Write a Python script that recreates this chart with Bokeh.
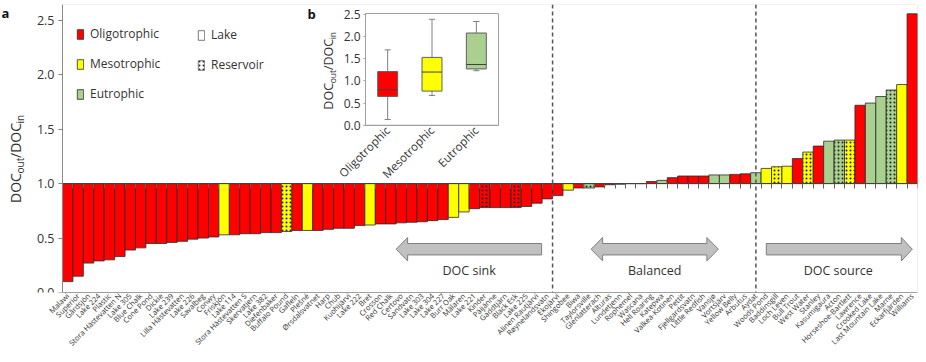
import math
from bokeh.plotting import figure
from bokeh.models import (Range1d, LinearAxis, FixedTicker, NumeralTickFormatter, BoxAnnotation,
                          Span, Label, Legend, LegendItem, ColumnDataSource)
from bokeh.embed import file_html
from bokeh.resources import INLINE

# ---------------- data ----------------
lakes = ["Malawi", "Superior", "Gårdsjön", "Lake 224", "Plastic", "Stora Hästevatten N",
         "Lake 305", "Blue Chalk", "Cone Pond", "Dickie", "Lake 239", "Lilla Hästevatten",
         "Lake 226", "Savalbeg", "Conwy", "Friskjön", "Lake 114", "Stora Hästevatten S",
         "Skervatjern", "Lake 382", "Diefenbaker", "Buffalo Pound", "Gafleln", "Plešné",
         "Ørsdalsvatnet", "Harp", "Chub", "Kuohijärvi", "Lake 222", "Bret", "Crosson",
         "Red Chalk", "Certovo", "Sandvatn", "Lake 303", "Lake 304", "Lake 227", "Burr Oak",
         "Mälaren", "Lake 221", "Kinder", "Päijänne", "Gaddtjärn", "Black Esk", "Lake 225",
         "Alinen Rautjärvi", "Røynelandsvatn", "Ekojärvi", "Shingobee", "Biwa", "Taylorsville",
         "Glenlatterach", "Alturas", "Lundetjenn", "Rophemel", "Wascana", "Hell Roaring",
         "Katepwa", "Valkea-Kotinen", "Pettit", "Fjellgardsvatn", "Little Redfish", "Vansjø",
         "Vortsjärv", "Yellow Belly", "Arbutus", "Aydat", "Woods Pond", "Baddinsgill",
         "Loch Leven", "Bull Trout", "West Water", "Stanley", "Kasumigaura", "Acton",
         "Horseshoe-Bartlett", "Lawrence", "Crooked Lake", "Last Mountain Lake", "Marne",
         "Eckarfjärden", "Williams"]

ratio = [0.10, 0.15, 0.27, 0.29, 0.30, 0.33, 0.39, 0.41, 0.45, 0.45,
         0.46, 0.47, 0.49, 0.50, 0.51, 0.53, 0.53, 0.54, 0.54, 0.55,
         0.55, 0.56, 0.57, 0.57, 0.57, 0.58, 0.59, 0.59, 0.615, 0.62,
         0.63, 0.63, 0.64, 0.645, 0.65, 0.66, 0.67, 0.69, 0.74, 0.77,
         0.78, 0.78, 0.78, 0.78, 0.79, 0.82, 0.86, 0.89, 0.94, 0.96,
         0.96, 0.97, 0.99, 0.995, 1.0, 1.0, 1.02, 1.03, 1.055, 1.07,
         1.07, 1.07, 1.08, 1.08, 1.085, 1.09, 1.10, 1.14, 1.155, 1.16,
         1.23, 1.29, 1.345, 1.39, 1.40, 1.40, 1.72, 1.74, 1.80, 1.86,
         1.91, 2.56]

# O = oligotrophic, M = mesotrophic, E = eutrophic
trophic = list("OOOOOOOOOOOOOOO" "M" "OOOOO" "M" "O" "M" "OOOOO" "M" "OOOOOOO" "MM"
               "OOOOOOOOO" "M" "O" "E" "OOOOOO" "E" "OOOO" "EE" "OO" "E" "MMM" "O" "M"
               "O" "EE" "M" "O" "EEE" "M" "O")

reservoirs = ["Buffalo Pound", "Kinder", "Black Esk", "Taylorsville", "Baddinsgill",
              "West Water", "Acton", "Horseshoe-Bartlett", "Marne"]

box_classes = ["Oligotrophic", "Mesotrophic", "Eutrophic"]
box_low = [0.13, 0.67, 1.23]
box_q1 = [0.65, 0.77, 1.27]
box_med = [0.80, 1.20, 1.37]
box_q3 = [1.21, 1.53, 2.08]
box_high = [1.70, 2.39, 2.34]

y_ticks = [0.0, 0.5, 1.0, 1.5, 2.0, 2.5]
inset_ticks = [0.0, 0.5, 1.0, 1.5, 2.0, 2.5]

assert len(lakes) == len(ratio) == len(trophic) == 82

# ---------------- styling / geometry ----------------
FONT = "Open Sans"
COLORS = {"O": "#FF0000", "M": "#FFFF00", "E": "#A9D08E"}
TXT = "#333333"

W, H = 918, 354
BL, BR, BT, BB = 0, 1, 4, 59
FL, FT = BL, BT
FW = W - BL - BR
FH = H - BT - BB
BAR_LEFT_PX = 62          # canvas x of the left edge of the first bar
N = len(lakes)
XS = (FL + FW - BAR_LEFT_PX) / N
X0, X1 = 0.5 - (BAR_LEFT_PX - FL) / XS, N + 0.5
Y0 = 0.0
Y1 = FH / 110.0


def xd(cx):
    return X0 + (cx - FL) * (X1 - X0) / FW


def yd(cy):
    return Y1 - (cy - FT) * (Y1 - Y0) / FH


# inset placement (canvas px)
IL, IR, I0, IS = 365, 498, 126, 44.8


def iu(cx):
    return 0.5 + (cx - IL) * 3.0 / (IR - IL)


def iv(cy):
    return (I0 - cy) / IS


p = figure(width=W, height=H, x_range=Range1d(X0, X1), y_range=Range1d(Y0, Y1),
           output_backend="svg", toolbar_location=None,
           min_border_left=BL, min_border_right=BR, min_border_top=BT, min_border_bottom=BB,
           x_axis_type=None, y_axis_type=None)
p.outline_line_color = None
p.background_fill_color = "white"
p.extra_x_ranges = {"ix": Range1d(iu(FL), iu(FL + FW))}
p.extra_y_ranges = {"iy": Range1d(iv(FT + FH), iv(FT))}

# panel frame
p.add_layout(BoxAnnotation(left=0.5, right=N + 0.5, bottom=Y0, top=Y1, fill_color=None,
                           line_color="#A0A0A0", line_width=1))

# main y axis (drawn at the left edge of the bars)
yax = LinearAxis(fixed_location=0.5, bounds=(Y0, Y1), ticker=FixedTicker(ticks=y_ticks),
                 formatter=NumeralTickFormatter(format="0.0"))
yax.major_tick_out = 4
yax.major_tick_in = 0
yax.minor_tick_out = 0
yax.minor_tick_in = 0
yax.axis_line_color = "#808080"
yax.major_tick_line_color = "#808080"
yax.major_label_text_font = FONT
yax.major_label_text_font_size = "12.5px"
yax.major_label_text_color = TXT
yax.major_label_standoff = 4
p.add_layout(yax, "left")

# main x axis (labels at bottom)
xs = list(range(1, N + 1))
xax = LinearAxis(ticker=FixedTicker(ticks=xs), bounds=(0.5, N + 0.5),
                 major_label_overrides={i: n for i, n in zip(xs, lakes)})
xax.major_label_orientation = math.pi / 4
xax.major_tick_out = 0
xax.major_tick_in = 0
xax.minor_tick_out = 0
xax.minor_tick_in = 0
xax.axis_line_color = "#A0A0A0"
xax.major_label_text_font = FONT
xax.major_label_text_font_size = "7.5px"
xax.major_label_text_color = TXT
xax.major_label_standoff = 2
p.add_layout(xax, "below")

# bars
src = ColumnDataSource(dict(
    x=xs, top=ratio,
    color=[COLORS[t] for t in trophic],
    hatch=["." if n in reservoirs else " " for n in lakes]))
bars = p.vbar(x="x", top="top", bottom=1.0, width=1.0, source=src, fill_color="color",
              line_color="#2A2A2A", line_width=0.8, hatch_pattern="hatch", hatch_color="#222222",
              hatch_scale=4, hatch_weight=0.8)

# axis line at ratio = 1 with boundary ticks
bticks = [i + 0.5 for i in range(0, N + 1)]
ax1 = LinearAxis(fixed_location=1.0, bounds=(0.5, N + 0.5), ticker=FixedTicker(ticks=bticks),
                 major_label_overrides={t: "" for t in bticks})
ax1.major_tick_out = 5
ax1.major_tick_in = 0
ax1.minor_tick_out = 0
ax1.minor_tick_in = 0
ax1.axis_line_color = "#404040"
ax1.major_tick_line_color = "#606060"
ax1.major_label_text_font_size = "1px"
p.add_layout(ax1, "below")

# dashed separators
for loc in (47.5, 67.0):
    p.add_layout(Span(location=loc, dimension="height", line_color="#555555",
                      line_dash="4 3", line_width=1.5))

# block arrows
SB, ST, HB, HT = 0.345, 0.45, 0.29, 0.505
MID = (SB + ST) / 2


def left_arrow(tip, base, tail):
    return [tip, base, base, tail, tail, base, base], [MID, HT, ST, ST, SB, SB, HB]


def right_arrow(tail, base, tip):
    return [tail, base, base, tip, base, base, tail], [ST, ST, HT, MID, HB, SB, SB]


def double_arrow(tip1, base1, base2, tip2):
    return ([tip1, base1, base1, base2, base2, tip2, base2, base2, base1, base1],
            [MID, HT, ST, ST, HT, MID, HB, SB, SB, HB])


for ax_, ay_ in (left_arrow(32.5, 33.6, 46.45), double_arrow(51.2, 52.3, 62.3, 63.4),
                 right_arrow(68.0, 80.95, 82.0)):
    p.patch(ax_, ay_, fill_color="#C0C0C0", line_color="#7F7F7F", line_width=1)

for tx, t in ((39.5, "DOC sink"), (57.3, "Balanced"), (74.9, "DOC source")):
    p.add_layout(Label(x=tx, y=0.2, text=t, text_align="center", text_baseline="middle",
                       text_font=FONT, text_font_size="12.5px", text_color=TXT))

# legends
lake_r = p.vbar(x=[1], top=[1.0], bottom=1.0, width=1, fill_color="white",
                line_color="#555555", line_width=0.8, visible=False)
res_r = p.vbar(x=[1], top=[1.0], bottom=1.0, width=1, fill_color="white",
               line_color="#555555", line_width=0.8, hatch_pattern=".", hatch_color="#222222",
               hatch_scale=4, hatch_weight=0.8, visible=False)


def first_index(code):
    return next(i for i, (t, n) in enumerate(zip(trophic, lakes))
                if t == code and n not in reservoirs)


def style_legend(lg):
    lg.background_fill_alpha = 0
    lg.border_line_alpha = 0
    lg.label_text_font = FONT
    lg.label_text_font_size = "12px"
    lg.label_text_color = TXT
    lg.glyph_width = 8
    lg.glyph_height = 12
    lg.label_height = 12
    lg.label_standoff = 6
    lg.spacing = 13
    lg.padding = 0
    lg.margin = 0


leg1 = Legend(items=[LegendItem(label="Oligotrophic", renderers=[bars], index=first_index("O")),
                     LegendItem(label="Mesotrophic", renderers=[bars], index=first_index("M")),
                     LegendItem(label="Eutrophic", renderers=[bars], index=first_index("E"))],
              location=(76, 190))
leg2 = Legend(items=[LegendItem(label="Lake", renderers=[lake_r]),
                     LegendItem(label="Reservoir", renderers=[res_r])], location=(197, 219))
style_legend(leg1)
style_legend(leg2)
p.add_layout(leg1)
p.add_layout(leg2)

# ---------------- inset (b) ----------------
bx = [1, 2, 3]
p.quad(left=[0.5], right=[3.5], bottom=[0], top=[2.52], fill_color=None, line_color="#A0A0A0",
       x_range_name="ix", y_range_name="iy")
p.segment(x0=bx, x1=bx, y0=box_q3, y1=box_high, line_color="#808080", line_width=1,
          x_range_name="ix", y_range_name="iy")
p.segment(x0=bx, x1=bx, y0=box_q1, y1=box_low, line_color="#808080", line_width=1,
          x_range_name="ix", y_range_name="iy")
for y_ in (box_high, box_low):
    p.segment(x0=[b - 0.07 for b in bx], x1=[b + 0.07 for b in bx], y0=y_, y1=y_,
              line_color="#808080", line_width=1, x_range_name="ix", y_range_name="iy")
p.vbar(x=bx, bottom=box_q1, top=box_q3, width=0.45,
       fill_color=[COLORS["O"], COLORS["M"], COLORS["E"]], line_color="#606060", line_width=1,
       x_range_name="ix", y_range_name="iy")
p.segment(x0=[b - 0.225 for b in bx], x1=[b + 0.225 for b in bx], y0=box_med, y1=box_med,
          line_color="#404040", line_width=1, x_range_name="ix", y_range_name="iy")

iyax = LinearAxis(x_range_name="ix", y_range_name="iy", fixed_location=0.5, bounds=(0, 2.52),
                  ticker=FixedTicker(ticks=inset_ticks), formatter=NumeralTickFormatter(format="0.0"))
iyax.major_tick_out = 2
iyax.major_tick_in = 0
iyax.minor_tick_out = 0
iyax.minor_tick_in = 0
iyax.axis_line_color = "#A0A0A0"
iyax.major_tick_line_color = "#A0A0A0"
iyax.major_label_text_font = FONT
iyax.major_label_text_font_size = "12px"
iyax.major_label_text_color = TXT
iyax.major_label_standoff = 3
p.add_layout(iyax, "left")

ixax = LinearAxis(x_range_name="ix", y_range_name="iy", fixed_location=0, bounds=(0.5, 3.5),
                  ticker=FixedTicker(ticks=bx),
                  major_label_overrides={b: c for b, c in zip(bx, box_classes)})
ixax.major_label_orientation = math.pi / 4
ixax.major_tick_out = 0
ixax.major_tick_in = 0
ixax.minor_tick_out = 0
ixax.minor_tick_in = 0
ixax.axis_line_color = "#A0A0A0"
ixax.major_label_text_font = FONT
ixax.major_label_text_font_size = "11.5px"
ixax.major_label_text_color = TXT
ixax.major_label_standoff = 3
p.add_layout(ixax, "below")

# ---------------- text labels ----------------
EM = {"D": 0.718, "O": 0.78, "C": 0.63, "o": 0.604, "u": 0.614, "t": 0.353, "/": 0.363,
      "i": 0.253, "n": 0.614}


def tw(s, size):
    return sum(EM.get(c, 0.6) for c in s) * size


def ratio_label(cx, cy_center, big, small, shift):
    parts = [("DOC", big, False), ("out", small, True), ("/DOC", big, False), ("in", small, True)]
    total = sum(tw(s, z) for s, z, _ in parts)
    cy = cy_center + total / 2
    for s, z, sub in parts:
        p.add_layout(Label(x=xd(cx + (shift if sub else 0)), y=yd(cy), text=s, angle=math.pi / 2,
                           text_align="left", text_baseline="alphabetic", text_font=FONT,
                           text_font_size=f"{z}px", text_color=TXT))
        cy -= tw(s, z)


ratio_label(15, 160, 14, 10, 4)
ratio_label(328, 71, 12.5, 8.5, 3.5)

p.add_layout(Label(x=xd(1), y=yd(3), text="a", text_align="left", text_baseline="top",
                   text_font=FONT, text_font_style="bold", text_font_size="13px", text_color="#111"))
p.add_layout(Label(x=xd(307), y=yd(5), text="b", text_align="left", text_baseline="top",
                   text_font=FONT, text_font_style="bold", text_font_size="13px", text_color="#111"))

open("out.html", "w").write(file_html(p, INLINE))
